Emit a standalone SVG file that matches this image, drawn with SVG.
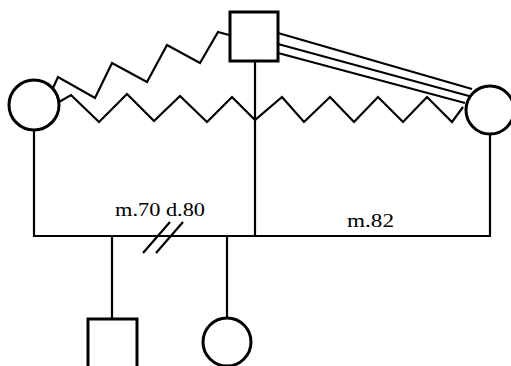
<svg xmlns="http://www.w3.org/2000/svg" width="511" height="366" viewBox="0 0 511 366">
<style>
.s{fill:none;stroke:#000;stroke-width:2.2;stroke-linejoin:miter}
.n{fill:#fff;stroke:#000;stroke-width:3}
.t{font-family:"Liberation Serif","Times New Roman",serif;font-size:19px;fill:#000}
</style>
<rect width="511" height="366" fill="#fff"/>
<g id="connectors">
<polyline class="s" points="59,102 71,95 99,122 127,94 154,121 180,96 207,122 232,97 255,120 282,97 304,122 330,97 354,122 378,97 403,122 427,97 452,122 463,107"/>
<polyline class="s" points="53,88 58,77 95,98 112,63 147,82 167,45 200,63 218,32 229,35"/>
<line class="s" x1="278" y1="33" x2="472" y2="89"/>
<line class="s" x1="278" y1="44" x2="469" y2="96"/>
<line class="s" x1="278" y1="53" x2="465" y2="103"/>
<line class="s" x1="255" y1="61" x2="255" y2="237"/>
<polyline class="s" points="34,130 34,236 490,236 490,134"/>
<line class="s" x1="112" y1="236" x2="112" y2="319"/>
<line class="s" x1="227" y1="236" x2="227" y2="318"/>
<line class="s" x1="143" y1="253" x2="170" y2="222"/>
<line class="s" x1="156" y1="253" x2="183" y2="222"/>
</g>
<g id="father"><rect class="n" x="230" y="12" width="48" height="49"/></g>
<g id="wife1"><circle class="n" cx="34" cy="105" r="25"/></g>
<g id="wife2"><circle class="n" cx="490" cy="110" r="24"/></g>
<g id="son"><rect class="n" x="88" y="319" width="49" height="60"/></g>
<g id="daughter"><circle class="n" cx="227" cy="342" r="24"/></g>
<g id="labels">
<text class="t" x="115" y="216" textLength="90" lengthAdjust="spacingAndGlyphs">m.70 d.80</text>
<text class="t" x="347" y="227" textLength="47" lengthAdjust="spacingAndGlyphs">m.82</text>
</g>
</svg>
